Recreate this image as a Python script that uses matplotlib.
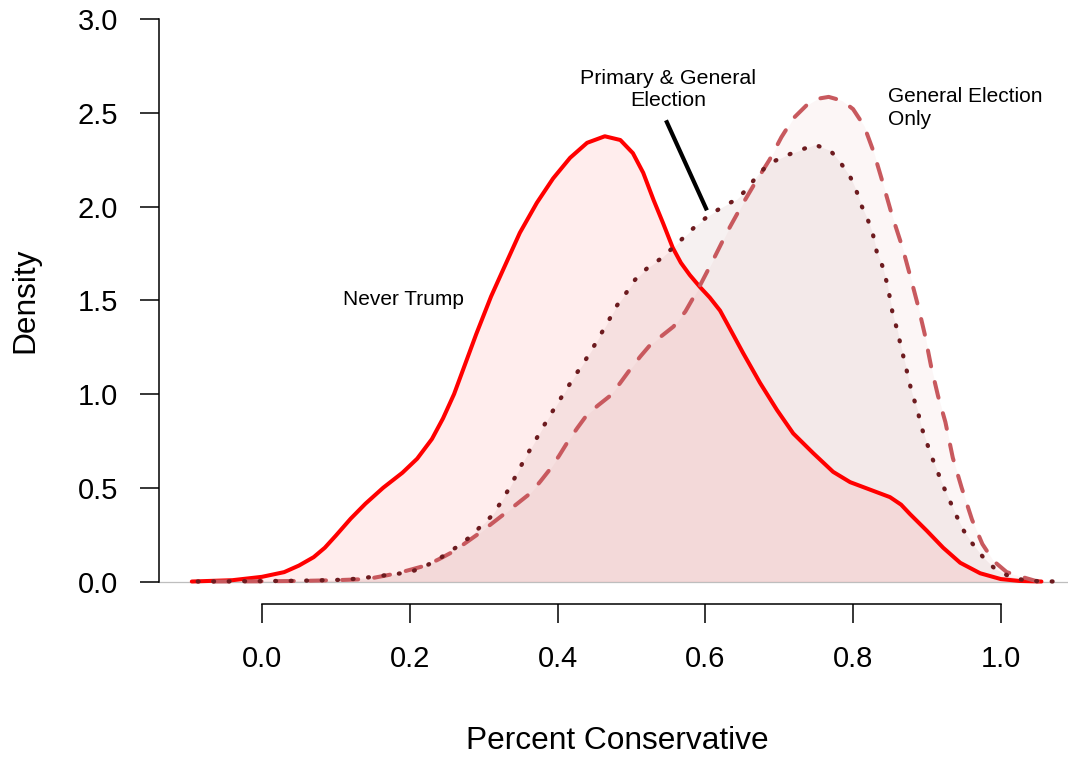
import numpy as np
import matplotlib
matplotlib.use("Agg")
import matplotlib.pyplot as plt

plt.rcParams['font.family'] = ['Liberation Sans', 'DejaVu Sans']

# density curves (x = percent conservative, y = density)
never_x = [-0.095, -0.04, 0.0, 0.03, 0.05, 0.07, 0.085, 0.10, 0.12, 0.14, 0.164, 0.19,
           0.21, 0.23, 0.245, 0.26, 0.275, 0.29, 0.31, 0.326, 0.349, 0.372, 0.394,
           0.417, 0.44, 0.464, 0.485, 0.502, 0.516, 0.53, 0.543, 0.556, 0.567, 0.579,
           0.593, 0.606, 0.62, 0.629, 0.651, 0.674, 0.697, 0.719, 0.746, 0.773, 0.796,
           0.823, 0.85, 0.865, 0.877, 0.90, 0.922, 0.945, 0.972, 1.0, 1.025, 1.055]
never_y = [0.0, 0.007, 0.025, 0.05, 0.085, 0.13, 0.18, 0.245, 0.335, 0.415, 0.50, 0.58,
           0.655, 0.76, 0.87, 1.0, 1.16, 1.32, 1.52, 1.66, 1.86, 2.02, 2.15,
           2.26, 2.34, 2.375, 2.355, 2.285, 2.18, 2.035, 1.91, 1.78, 1.70, 1.635,
           1.57, 1.515, 1.445, 1.38, 1.22, 1.06, 0.915, 0.79, 0.685, 0.585, 0.53,
           0.49, 0.45, 0.41, 0.36, 0.27, 0.18, 0.10, 0.044, 0.013, 0.003, 0.0]

general_x = [-0.066, 0.0, 0.05, 0.10, 0.142, 0.165, 0.183, 0.203, 0.223, 0.24, 0.259,
             0.277, 0.295, 0.313, 0.331, 0.347, 0.363, 0.377, 0.39, 0.402, 0.413, 0.427,
             0.44, 0.455, 0.471, 0.485, 0.498, 0.512, 0.525, 0.541, 0.557, 0.573, 0.589,
             0.61, 0.629, 0.65, 0.668, 0.687, 0.703, 0.719, 0.737, 0.752, 0.767, 0.785,
             0.80, 0.815, 0.828, 0.84, 0.853, 0.867, 0.878, 0.888, 0.897, 0.906, 0.915,
             0.925, 0.935, 0.947, 0.961, 0.975, 0.99, 1.008, 1.035, 1.05]
general_y = [0.0, 0.001, 0.003, 0.007, 0.013, 0.03, 0.044, 0.065, 0.087, 0.12, 0.16,
             0.21, 0.26, 0.315, 0.37, 0.42, 0.47, 0.535, 0.60, 0.67, 0.74, 0.82,
             0.89, 0.94, 0.99, 1.06, 1.13, 1.20, 1.26, 1.31, 1.36, 1.44, 1.55,
             1.71, 1.86, 2.01, 2.13, 2.25, 2.37, 2.47, 2.54, 2.575, 2.585, 2.565,
             2.52, 2.43, 2.29, 2.13, 1.95, 1.78, 1.62, 1.47, 1.32, 1.14, 0.99,
             0.85, 0.66, 0.50, 0.33, 0.20, 0.11, 0.05, 0.017, 0.0]

both_x = [-0.087, -0.04, 0.0, 0.05, 0.10, 0.13, 0.16, 0.185, 0.204, 0.225, 0.243, 0.262,
          0.279, 0.295, 0.311, 0.323, 0.335, 0.345, 0.355, 0.366, 0.377, 0.388, 0.40,
          0.412, 0.424, 0.436, 0.447, 0.458, 0.469, 0.48, 0.493, 0.505, 0.521, 0.539,
          0.556, 0.572, 0.588, 0.604, 0.624, 0.643, 0.658, 0.671, 0.687, 0.708, 0.728,
          0.748, 0.769, 0.782, 0.796, 0.804, 0.812, 0.82, 0.827, 0.832, 0.84, 0.846,
          0.85, 0.854, 0.86, 0.865, 0.87, 0.875, 0.88, 0.887, 0.892, 0.899, 0.906,
          0.914, 0.922, 0.931, 0.94, 0.95, 0.962, 0.976, 0.991, 1.01, 1.031, 1.053, 1.076]
both_y = [0.0, 0.001, 0.002, 0.004, 0.008, 0.015, 0.03, 0.042, 0.055, 0.09, 0.13, 0.18,
          0.23, 0.29, 0.35, 0.42, 0.50, 0.575, 0.65, 0.725, 0.80, 0.875, 0.95,
          1.025, 1.10, 1.17, 1.24, 1.315, 1.39, 1.47, 1.54, 1.61, 1.67, 1.72,
          1.78, 1.84, 1.90, 1.95, 2.00, 2.04, 2.10, 2.17, 2.23, 2.27, 2.30,
          2.33, 2.30, 2.24, 2.16, 2.09, 2.00, 1.93, 1.85, 1.76, 1.68, 1.59,
          1.51, 1.42, 1.34, 1.25, 1.17, 1.085, 1.00, 0.92, 0.83, 0.75, 0.67,
          0.59, 0.51, 0.43, 0.35, 0.27, 0.20, 0.13, 0.072, 0.03, 0.007, 0.001, 0.0]

x_ticks = [0.0, 0.2, 0.4, 0.6, 0.8, 1.0]
y_ticks = [0.0, 0.5, 1.0, 1.5, 2.0, 2.5, 3.0]

W, H = 1068, 757
fig = plt.figure(figsize=(W / 100, H / 100), dpi=100)
# plot region in pixels: left 159, right 1075, top -3.4, bottom 604
ax = fig.add_axes([159 / W, (H - 604) / H, (1075 - 159) / W, (604 + 3.4) / H])
ax.set_xlim(-0.1394, 1.1004)
ax.set_ylim(-0.12, 3.12)

red = '#ff0000'
dash_col = '#c8595e'
dot_col = '#6d1b1f'

ax.axhline(0, color='#bebebe', lw=0.9, zorder=1)

ax.fill_between(never_x, never_y, 0, color=red, alpha=0.07, lw=0, zorder=2)
ax.fill_between(both_x, both_y, 0, color='#731a1a', alpha=0.06, lw=0, zorder=2)
ax.fill_between(general_x, general_y, 0, color=dash_col, alpha=0.05, lw=0, zorder=2)

ax.plot(never_x, never_y, color=red, lw=2.9, solid_capstyle='round',
        solid_joinstyle='round', zorder=4)
ax.plot(general_x, general_y, color=dash_col, lw=2.9, linestyle=(0, (4, 4)),
        dash_capstyle='round', dash_joinstyle='round', zorder=4)
ax.plot(both_x, both_y, color=dot_col, lw=3.1, linestyle=(0, (0.2, 3.4)),
        dash_capstyle='round', zorder=5)

# labels for the curves
ax.text(0.191, 1.506, 'Never Trump', fontsize=15, ha='center', va='center')
ax.text(0.55, 2.625, 'Primary & General\nElection', fontsize=15.4, ha='center',
        va='center', linespacing=1.22)
ax.text(0.847, 2.525, 'General Election\nOnly', fontsize=15, ha='left',
        va='center', linespacing=1.25)
ax.plot([0.548, 0.601], [2.45, 1.99], color='black', lw=3, zorder=6)

# R-style axes
for s in ['top', 'right']:
    ax.spines[s].set_visible(False)
ax.spines['left'].set_bounds(0, 3)
ax.spines['bottom'].set_bounds(0, 1)
ax.spines['left'].set_linewidth(1.1)
ax.spines['bottom'].set_linewidth(1.1)
ax.set_xticks(x_ticks)
ax.set_xticklabels(['%.1f' % v for v in x_ticks])
ax.set_yticks(y_ticks)
ax.set_yticklabels(['%.1f' % v for v in y_ticks])
ax.tick_params(axis='both', direction='out', length=13.7, width=1.1, labelsize=21)
ax.tick_params(axis='x', pad=16)
ax.tick_params(axis='y', pad=15.8)

fig.text(617 / W, (H - 749) / H, 'Percent Conservative', fontsize=22.8,
         ha='center', va='baseline')
fig.text(25 / W, (H - 300) / H, 'Density', fontsize=22.8, rotation=90,
         ha='center', va='center')

fig.savefig('out.png', dpi=100)
